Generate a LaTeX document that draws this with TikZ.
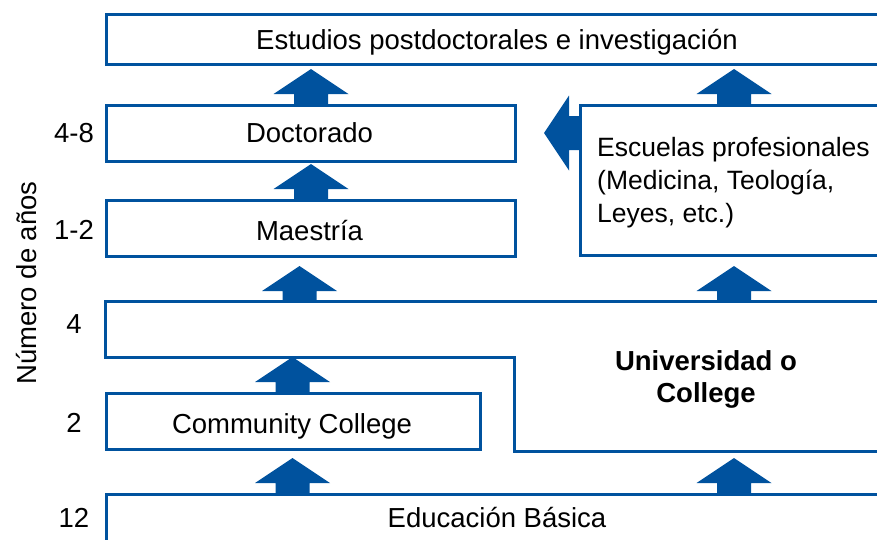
\documentclass[tikz,border=0pt]{standalone}
\usepackage{fontspec}
\setmainfont{Liberation Sans}
\definecolor{eblue}{RGB}{0,82,158}
\begin{document}
\begin{tikzpicture}[x=1pt,y=-1pt,
  box/.style={draw=eblue, line width=3pt, inner sep=0pt, anchor=north west},
  lbl/.style={anchor=base, inner sep=0pt, font=\fontsize{27.5}{33}\selectfont},
  blockarr/.pic={\fill[eblue] (0,-17) -- (10,-17) -- (10,-37.5) -- (35,0) -- (10,37.5) -- (10,17) -- (0,17) -- cycle;}
]
\clip (0,0) rectangle (877,539);
% boxes
\node[box, minimum width=800, minimum height=50] (post) at (105,13) {};
\node[box, minimum width=409, minimum height=56] (doct) at (105,104) {};
\node[box, minimum width=409, minimum height=56] (maes) at (105,199) {};
\node[box, minimum width=330, minimum height=150] (esc) at (579,104) {};
\node[box, minimum width=374, minimum height=56] (cc) at (105,392) {};
\node[box, minimum width=800, minimum height=80] (edu) at (105,493) {};
% Universidad o College outline
\coordinate (u1) at (905,301);
\coordinate (u2) at (105,301);
\coordinate (u3) at (105,357);
\coordinate (u4) at (514,357);
\coordinate (u5) at (514,451);
\coordinate (u6) at (905,451);
\draw[eblue, line width=3pt, line join=miter] (u1) -- (u2) -- (u3) -- (u4) -- (u5) -- (u6);
% texts
\node[lbl] (tpost) at (497,49) {Estudios postdoctorales e investigación};
\node[lbl] (tdoct) at (309.5,142) {Doctorado};
\node[lbl] (tmaes) at (309.5,240) {Maestría};
\node[lbl] (tcc) at (292,433) {Community College};
\node[lbl] (tedu) at (497,527) {Educación Básica};
\node[anchor=north west, inner sep=0pt, align=left, font=\fontsize{26.5}{33}\selectfont] (tesc) at (597,137) {Escuelas profesionales\\(Medicina, Teología,\\Leyes, etc.)};
\node[anchor=north, inner sep=0pt, align=center, font=\fontsize{27.5}{32}\selectfont\bfseries] (tuni) at (706,350) {Universidad o\\College};
% year labels
\node[lbl] (y48) at (74,142) {4-8};
\node[lbl] (y12b) at (74,239) {1-2};
\node[lbl] (y4) at (74,333) {4};
\node[lbl] (y2) at (74,432) {2};
\node[lbl] (y12) at (74,527) {12};
\node[lbl, rotate=90] (axis) at (36,283) {Número de años};
% block arrows
\pic[rotate=90] at (doct.north) {blockarr};
\pic[rotate=90] at (maes.north) {blockarr};
\pic[rotate=90] at (299.5,301) {blockarr};
\pic[rotate=90] at (734,104) {blockarr};
\pic[rotate=90] at (734,301) {blockarr};
\pic[rotate=90] at (292.5,392) {blockarr};
\pic[rotate=90] at (292.5,493) {blockarr};
\pic[rotate=90] at (734,493) {blockarr};
\pic[rotate=180] at (esc.west |- 0,133) {blockarr};
\end{tikzpicture}
\end{document}
